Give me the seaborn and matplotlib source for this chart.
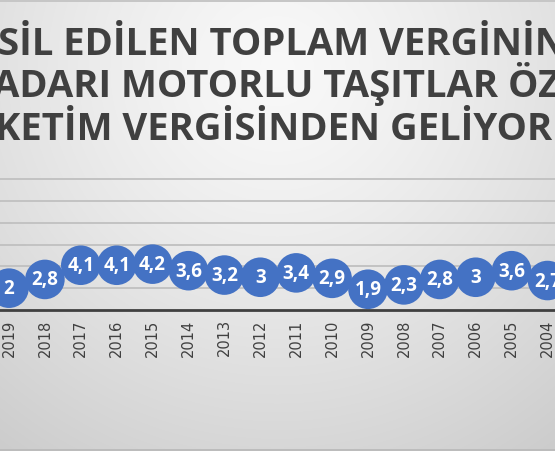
import numpy as np
import pandas as pd
import matplotlib
matplotlib.use("Agg")
import matplotlib.pyplot as plt
import seaborn as sns

years = ["2019", "2018", "2017", "2016", "2015", "2014", "2013", "2012",
         "2011", "2010", "2009", "2008", "2007", "2006", "2005", "2004"]
values = [2.0, 2.8, 4.1, 4.1, 4.2, 3.6, 3.2, 3.0,
          3.4, 2.9, 1.9, 2.3, 2.8, 3.0, 3.6, 2.7]
labels = ["2", "2,8", "4,1", "4,1", "4,2", "3,6", "3,2", "3",
          "3,4", "2,9", "1,9", "2,3", "2,8", "3", "3,6", "2,7"]
title_lines = ["SİL EDİLEN TOPLAM VERGİNİN",
               "ADARI MOTORLU TAŞITLAR ÖZEL",
               "KETİM VERGİSİNDEN GELİYOR"]

sns.set_theme(style="white")
plt.rcParams['font.family'] = ['Open Sans', 'DejaVu Sans']

W, H = 555, 452
fig = plt.figure(figsize=(W / 100, H / 100), dpi=100)

# background radial gradient
bg = fig.add_axes([0, 0, 1, 1], zorder=-5)
yy, xx = np.mgrid[0:H, 0:W]
d = np.sqrt((xx - 277) ** 2 + (yy - 70) ** 2)
t = np.clip(d / 470.0, 0, 1)
c = 0.975 - (0.975 - 0.80) * t ** 1.3
img = np.dstack([c, c, c])
img[0:3, :, :] = 0.78
img[H - 2:, :, :] = 0.74
bg.imshow(img, extent=[0, W, H, 0], aspect='auto', interpolation='bilinear')
bg.set_xlim(0, W)
bg.set_ylim(H, 0)
bg.axis('off')

# title lines
baselines = [55, 97, 140]
starts = [-2, -7, -5]
for line, yb, xs in zip(title_lines, baselines, starts):
    fig.text(xs / W, 1 - yb / H, line, ha='left', va='baseline',
             fontsize=27.5, fontweight='bold', color='#404040')

# chart axes
x0_px, dx_px = 9, 35.9
y0_px, y12_px = 311, 180
ax = fig.add_axes([0, 1 - y0_px / H, 1, (y0_px - y12_px) / H])
ax.patch.set_alpha(0)

df = pd.DataFrame({"idx": np.arange(len(years)), "year": years, "value": values})

ax.set_xlim(-x0_px / dx_px, (W - x0_px) / dx_px)
ax.set_ylim(0, 12)
for gy in [2, 4, 6, 8, 10, 12]:
    ax.axhline(gy, color='#c0c0c0', lw=1.3, zorder=0, clip_on=False)

sns.scatterplot(data=df, x="idx", y="value", ax=ax, s=28.5 ** 2,
                color='#4472C4', edgecolor='none', zorder=3, legend=False)

for i, (v, lab) in enumerate(zip(values, labels)):
    ax.text(i, v, lab, ha='center', va='center', color='white',
            fontsize=13.5, fontweight='bold', zorder=4, clip_on=False)

for s in ['top', 'right', 'left']:
    ax.spines[s].set_visible(False)
ax.spines['bottom'].set_color('#404040')
ax.spines['bottom'].set_linewidth(2)
ax.set_yticks([])
ax.set_xticks(df["idx"])
ax.set_xticklabels(years, rotation=90, fontsize=10.5, color='#404040',
                   family='DejaVu Sans')
ax.tick_params(axis='x', length=0, pad=6)
ax.set_xlabel("")
ax.set_ylabel("")

fig.savefig("out.png", dpi=100)
